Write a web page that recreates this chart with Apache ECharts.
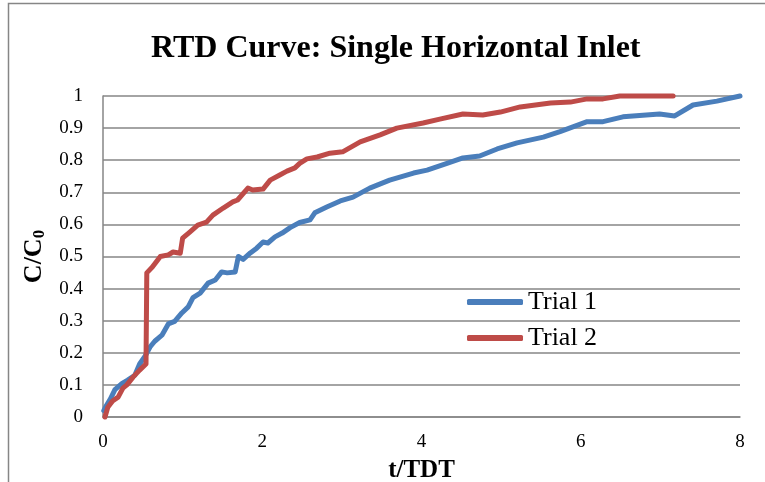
<!DOCTYPE html>
<html>
<head>
<meta charset="utf-8">
<script src="https://cdn.jsdelivr.net/npm/echarts@6/dist/echarts.min.js"></script>
<style>html,body{margin:0;padding:0;background:#fff;}#c{width:765px;height:482px;}</style>
</head>
<body>
<div id="c"></div>
<script>
const titleText = 'RTD Curve: Single Horizontal Inlet';
const xTitle = 't/TDT';
const seriesNames = ['Trial 1', 'Trial 2'];
const trial1T = [0.01,0.03,0.09,0.15,0.24,0.31,0.40,0.46,0.53,0.59,0.65,0.74,0.82,0.90,0.99,1.07,1.13,1.22,1.32,1.41,1.49,1.56,1.66,1.70,1.76,1.85,1.93,2.01,2.07,2.16,2.25,2.35,2.47,2.60,2.66,2.81,2.98,3.14,3.35,3.60,3.90,4.07,4.32,4.52,4.73,4.95,5.20,5.53,5.74,6.08,6.28,6.53,6.99,7.18,7.41,7.71,8.0];
const trial1C = [0.02,0.03,0.055,0.085,0.105,0.115,0.13,0.165,0.19,0.218,0.236,0.255,0.29,0.298,0.324,0.343,0.372,0.386,0.417,0.427,0.452,0.449,0.452,0.50,0.491,0.511,0.526,0.545,0.542,0.561,0.573,0.59,0.606,0.614,0.636,0.654,0.673,0.685,0.713,0.738,0.76,0.769,0.79,0.807,0.813,0.835,0.854,0.872,0.889,0.92,0.92,0.935,0.944,0.938,0.972,0.984,1.0];
const trial2T = [0.025,0.06,0.12,0.19,0.25,0.30,0.38,0.46,0.54,0.55,0.62,0.72,0.82,0.88,0.97,1.0,1.09,1.19,1.30,1.38,1.51,1.63,1.69,1.82,1.88,2.01,2.10,2.22,2.31,2.41,2.47,2.56,2.69,2.85,3.01,3.23,3.48,3.69,4.02,4.23,4.52,4.77,4.99,5.24,5.62,5.87,6.08,6.28,6.49,6.87,7.16];
const trial2C = [0,0.03,0.05,0.062,0.09,0.10,0.125,0.146,0.165,0.449,0.467,0.50,0.505,0.514,0.51,0.557,0.576,0.598,0.607,0.629,0.651,0.67,0.676,0.713,0.707,0.71,0.738,0.754,0.766,0.776,0.79,0.804,0.81,0.822,0.826,0.857,0.879,0.90,0.916,0.928,0.944,0.941,0.95,0.966,0.978,0.981,0.991,0.991,1.0,1.0,1.0];

const zip = (a, b) => a.map((v, i) => [v, b[i]]);
const serif = '"Liberation Serif", "Times New Roman", serif';
const chart = echarts.init(document.getElementById('c'), null, {renderer: 'canvas'});
chart.setOption({
  backgroundColor: '#fff',
  animation: false,
  title: {
    text: titleText, left: 146, top: 28,
    textStyle: {fontFamily: serif, fontWeight: 'bold', fontSize: 32, color: '#000'}
  },
  graphic: [{
    type: 'rect', left: 6, top: 1, shape: {width: 800, height: 520},
    style: {fill: 'none', stroke: '#868686', lineWidth: 1.5}, silent: true
  }],
  legend: {
    orient: 'vertical', left: 462, top: 284,
    itemWidth: 56, itemHeight: 6, itemGap: 10, icon: 'roundRect',
    textStyle: {fontFamily: serif, fontSize: 26, color: '#000', lineHeight: 26},
    data: seriesNames
  },
  grid: {left: 103, right: 25, top: 96, bottom: 65, containLabel: false, outerBoundsMode: 'none'},
  xAxis: {
    type: 'value', min: 0, max: 8, interval: 2,
    name: xTitle, nameLocation: 'middle', nameGap: 41,
    nameTextStyle: {fontFamily: serif, fontWeight: 'bold', fontSize: 25, color: '#000'},
    axisLine: {show: true, lineStyle: {color: '#868686', width: 1.5}},
    axisTick: {show: false},
    axisLabel: {fontFamily: serif, fontSize: 19, color: '#000', margin: 16},
    splitLine: {show: false}
  },
  yAxis: {
    type: 'value', min: 0, max: 1, interval: 0.1,
    name: '{m|C/C}{s|0}', nameLocation: 'middle', nameGap: 55,
    nameTextStyle: {
      rich: {
        m: {fontFamily: serif, fontWeight: 'bold', fontSize: 26, color: '#000'},
        s: {fontFamily: serif, fontWeight: 'bold', fontSize: 17, color: '#000', verticalAlign: 'bottom', padding: [10, 0, 0, 0]}
      }
    },
    axisLine: {show: true, lineStyle: {color: '#868686', width: 1.5}},
    axisTick: {show: false},
    axisLabel: {fontFamily: serif, fontSize: 19, color: '#000', margin: 20,
      formatter: v => String(+v.toFixed(1))},
    splitLine: {show: true, lineStyle: {color: '#868686', width: 1.5}}
  },
  series: [
    {name: seriesNames[0], type: 'line', data: zip(trial1T, trial1C), showSymbol: false, clip: false,
     color: '#4A7EBB', lineStyle: {width: 5, color: '#4A7EBB', cap: 'round', join: 'round'}},
    {name: seriesNames[1], type: 'line', data: zip(trial2T, trial2C), showSymbol: false, clip: false,
     color: '#BE4B48', lineStyle: {width: 5, color: '#BE4B48', cap: 'round', join: 'round'}}
  ]
});
</script>
</body>
</html>
